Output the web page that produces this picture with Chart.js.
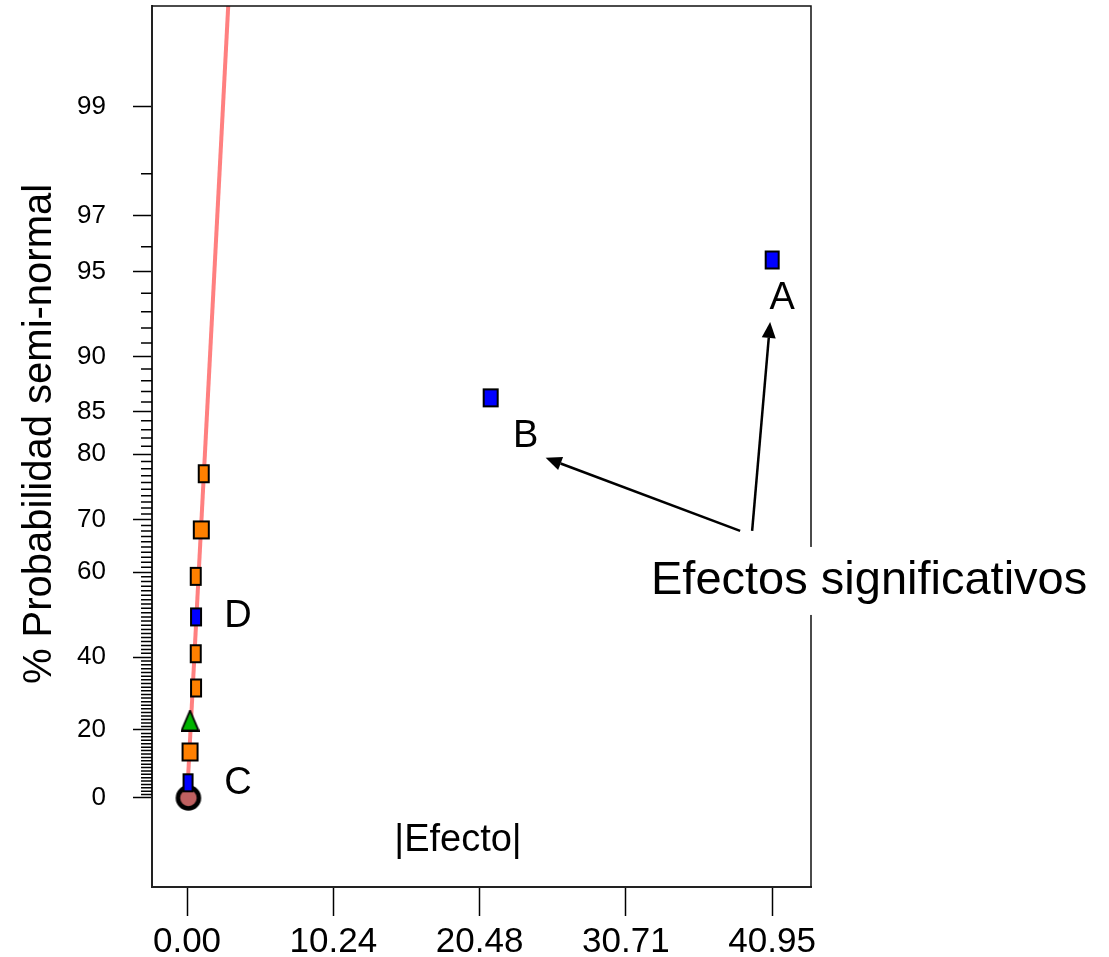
<!DOCTYPE html>
<html>
<head>
<meta charset="utf-8">
<script src="https://cdn.jsdelivr.net/npm/chart.js@4.4.1/dist/chart.umd.min.js"></script>
<style>
  html, body { margin: 0; padding: 0; background: #fff; }
</style>
</head>
<body>
<canvas id="halfnormal" width="1109" height="957"></canvas>
<script>
// |effect| and half-normal plotting position (%) of each estimated effect
const effects =       [0.10, 0.07, 0.21, 0.21, 0.63, 0.61, 0.63, 0.61, 1.00, 1.17, 21.25, 40.95];
const probabilities = [0,    4.5,  13.6, 22.7, 31.8, 40.9, 50.0, 59.1, 68.2, 77.3, 86.4, 95.5];
const pointKinds =    ["error", "main", "inter", "curv", "inter", "inter", "main", "inter", "inter", "inter", "main", "main"];
const pointNames =    ["", "C", "", "", "", "", "D", "", "", "", "B", "A"];

// reference line through the small effects
const fitEffects = [0, 2.9];
const fitProbabilities = [0, 99.7];

const xTicks = [0, 10.24, 20.48, 30.71, 40.95];
const xTickLabels = ["0.00", "10.24", "20.48", "30.71", "40.95"];
const yTickLabels = [0, 20, 40, 60, 70, 80, 85, 90, 95, 97, 99];

const FONT = "'Liberation Sans', Arial, sans-serif";

// inverse standard normal CDF (Acklam)
function normInv(p) {
    const a = [-3.969683028665376e1, 2.209460984245205e2, -2.759285104469687e2, 1.38357751867269e2, -3.066479806614716e1, 2.506628277459239];
    const b = [-5.447609879822406e1, 1.615858368580409e2, -1.556989798598866e2, 6.680131188771972e1, -1.328068155288572e1];
    const c = [-7.784894002430293e-3, -3.223964580411365e-1, -2.400758277161838, -2.549732539343734, 4.374664141464968, 2.938163982698783];
    const d = [7.784695709041462e-3, 3.224671290700398e-1, 2.445134137142996, 3.754408661907416];
    const lo = 0.02425;
    if (p < lo) {
        const q = Math.sqrt(-2 * Math.log(p));
        return (((((c[0] * q + c[1]) * q + c[2]) * q + c[3]) * q + c[4]) * q + c[5]) /
            ((((d[0] * q + d[1]) * q + d[2]) * q + d[3]) * q + 1);
    }
    if (p <= 1 - lo) {
        const q = p - 0.5;
        const r = q * q;
        return (((((a[0] * r + a[1]) * r + a[2]) * r + a[3]) * r + a[4]) * r + a[5]) * q /
            (((((b[0] * r + b[1]) * r + b[2]) * r + b[3]) * r + b[4]) * r + 1);
    }
    const q = Math.sqrt(-2 * Math.log(1 - p));
    return -(((((c[0] * q + c[1]) * q + c[2]) * q + c[3]) * q + c[4]) * q + c[5]) /
        ((((d[0] * q + d[1]) * q + d[2]) * q + d[3]) * q + 1);
}

// percent on the half-normal axis -> z units used by the y scale
const halfNormal = (pct) => normInv(0.5 + pct / 200);

// marker sprites
const markerWidths = [23, 11, 17, 17, 12, 12, 12, 12, 17, 12, 16, 15];

function makeMarker(kind, w) {
    const cv = document.createElement("canvas");
    const g = cv.getContext("2d");
    if (kind === "error") {
        cv.width = 28;
        cv.height = 28;
        g.beginPath();
        g.arc(14, 14, 10.5, 0, Math.PI * 2);
        g.fillStyle = "#bf6060";
        g.fill();
        g.lineWidth = 4.5;
        g.strokeStyle = "#000";
        g.stroke();
        return cv;
    }
    if (kind === "curv") {
        cv.width = w + 2;
        cv.height = 22;
        g.beginPath();
        g.moveTo(cv.width / 2, 1);
        g.lineTo(cv.width - 1, 21);
        g.lineTo(1, 21);
        g.closePath();
        g.fillStyle = "#00b400";
        g.fill();
        g.lineWidth = 1.8;
        g.strokeStyle = "#000";
        g.stroke();
        return cv;
    }
    const h = 19;
    cv.width = w + 2;
    cv.height = h + 2;
    g.fillStyle = kind === "main" ? "#0000ff" : "#ff8000";
    g.fillRect(1, 1, w, h);
    g.lineWidth = 2;
    g.strokeStyle = "#000";
    g.strokeRect(2, 2, w - 2, h - 2);
    return cv;
}

const markers = pointKinds.map((k, i) => makeMarker(k, markerWidths[i]));

const points = effects.map((e, i) => ({ x: e, y: halfNormal(probabilities[i]) }));
const fitLine = fitEffects.map((e, i) => ({ x: e, y: halfNormal(fitProbabilities[i]) }));

// letter offsets from their point, px
const nameOffsets = {
    A: [10, 39],
    B: [35, 39],
    C: [50, 1],
    D: [42, 0],
};

function arrow(ctx, x0, y0, x1, y1) {
    const ang = Math.atan2(y1 - y0, x1 - x0);
    const len = 16, half = 7;
    const bx = x1 - len * Math.cos(ang), by = y1 - len * Math.sin(ang);
    ctx.beginPath();
    ctx.moveTo(x0, y0);
    ctx.lineTo(bx, by);
    ctx.stroke();
    ctx.beginPath();
    ctx.moveTo(x1, y1);
    ctx.lineTo(bx + half * Math.sin(ang), by - half * Math.cos(ang));
    ctx.lineTo(bx - half * Math.sin(ang), by + half * Math.cos(ang));
    ctx.closePath();
    ctx.fill();
}

const decorations = {
    id: "decorations",
    afterDraw(chart) {
        const { ctx, chartArea: area, scales } = chart;
        const y = scales.y;
        ctx.save();

        // minor ticks every 1 %
        ctx.strokeStyle = "#000";
        ctx.lineWidth = 1.5;
        ctx.beginPath();
        for (let p = 1; p < 99; p++) {
            if (yTickLabels.includes(p)) continue;
            const py = y.getPixelForValue(halfNormal(p));
            ctx.moveTo(area.left - 11, py);
            ctx.lineTo(area.left, py);
        }
        ctx.stroke();

        // top and right frame
        ctx.lineWidth = 1.5;
        ctx.strokeStyle = "#111";
        ctx.beginPath();
        ctx.moveTo(area.left, area.top);
        ctx.lineTo(area.right, area.top);
        ctx.lineTo(area.right, area.bottom);
        ctx.stroke();

        // axis titles
        ctx.fillStyle = "#000";
        ctx.textAlign = "center";
        ctx.textBaseline = "middle";
        ctx.font = "38px " + FONT;
        ctx.fillText("|Efecto|", area.left + 306, area.bottom - 46);

        ctx.save();
        ctx.translate(40, 434);
        ctx.rotate(-Math.PI / 2);
        ctx.font = "40px " + FONT;
        ctx.fillText("% Probabilidad semi-normal", 0, 0);
        ctx.restore();

        // effect letters
        const meta = chart.getDatasetMeta(0);
        const spots = {};
        ctx.font = "38px " + FONT;
        pointNames.forEach((name, i) => {
            if (!name) return;
            const el = meta.data[i];
            const [dx, dy] = nameOffsets[name];
            spots[name] = { x: el.x + dx, y: el.y + dy };
            ctx.fillText(name, el.x + dx, el.y + dy);
        });

        // callout for the significant effects
        const tx = spots.A.x + 87, ty = spots.A.y + 282;
        ctx.lineWidth = 2.5;
        ctx.strokeStyle = "#000";
        arrow(ctx, tx - 129, ty - 50, spots.B.x + 20, spots.B.y + 21);
        arrow(ctx, tx - 117, ty - 50, spots.A.x - 12, spots.A.y + 23);

        ctx.font = "47px " + FONT;
        const label = "Efectos significativos";
        const w = ctx.measureText(label).width;
        ctx.fillStyle = "#fff";
        ctx.fillRect(tx - w / 2 - 4, ty - 34, w + 8, 68);
        ctx.fillStyle = "#000";
        ctx.fillText(label, tx, ty);

        ctx.restore();
    },
};

new Chart(document.getElementById("halfnormal"), {
    type: "scatter",
    data: {
        datasets: [
            {
                data: points,
                pointStyle: markers,
                pointRadius: 10,
                order: 1,
            },
            {
                data: fitLine,
                showLine: true,
                borderColor: "#ff8080",
                borderWidth: 4,
                pointRadius: 0,
                order: 2,
            },
        ],
    },
    options: {
        responsive: false,
        animation: false,
        devicePixelRatio: 1,
        layout: {
            autoPadding: false,
            padding: { left: 0, right: 298, top: 6, bottom: 0 },
        },
        plugins: {
            legend: { display: false },
            tooltip: { enabled: false },
        },
        scales: {
            x: {
                type: "linear",
                min: -2.45,
                max: 43.67,
                afterBuildTicks: (scale) => {
                    scale.ticks = xTicks.map((v) => ({ value: v }));
                },
                afterFit: (scale) => {
                    scale.height = 70;
                    scale.paddingLeft = 0;
                    scale.paddingRight = 0;
                },
                ticks: {
                    autoSkip: false,
                    maxRotation: 0,
                    padding: 5,
                    color: "#000",
                    font: { family: FONT, size: 35 },
                    callback: (value, index) => xTickLabels[index],
                },
                grid: {
                    drawOnChartArea: false,
                    tickLength: 29,
                    tickColor: "#000",
                    tickWidth: 1.5,
                },
                border: { display: true, color: "#222", width: 2 },
            },
            y: {
                type: "linear",
                min: -0.332,
                max: 2.951,
                afterBuildTicks: (scale) => {
                    scale.ticks = yTickLabels.map((p) => ({ value: halfNormal(p) }));
                },
                afterFit: (scale) => {
                    scale.width = 152;
                    scale.paddingTop = 0;
                    scale.paddingBottom = 0;
                },
                ticks: {
                    autoSkip: false,
                    padding: 27,
                    color: "#000",
                    font: { family: FONT, size: 26 },
                    callback: (value, index) => String(yTickLabels[index]),
                },
                grid: {
                    drawOnChartArea: false,
                    tickLength: 19,
                    tickColor: "#000",
                    tickWidth: 1.5,
                },
                border: { display: true, color: "#222", width: 2 },
            },
        },
    },
    plugins: [decorations],
});
</script>
</body>
</html>
